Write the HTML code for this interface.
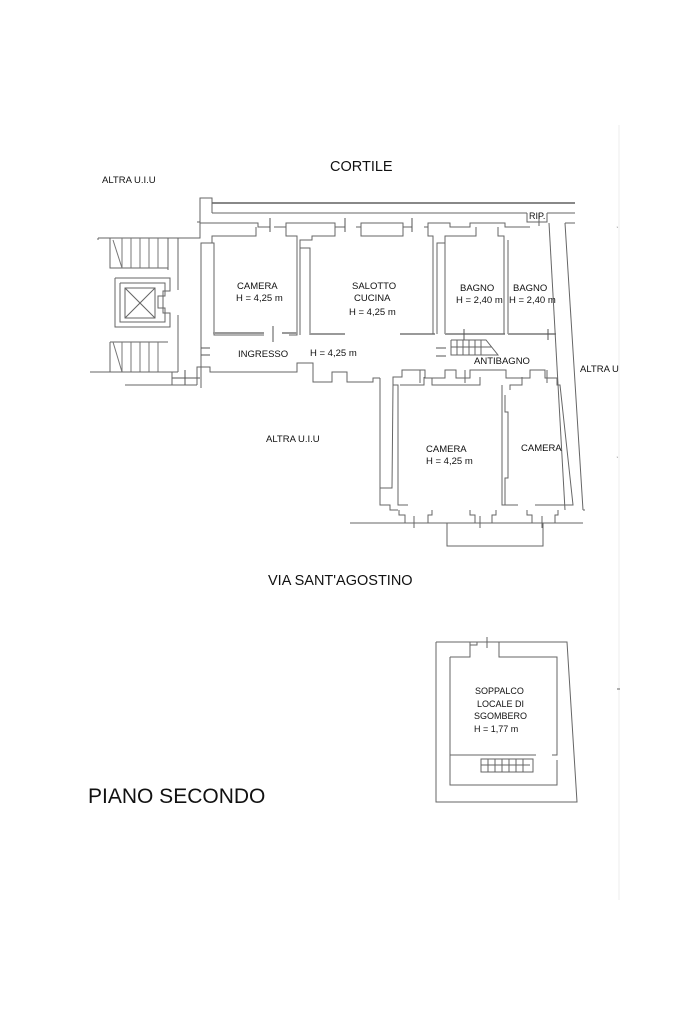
<!DOCTYPE html>
<html><head><meta charset="utf-8"><style>
html,body{margin:0;padding:0;background:#fff}
svg{display:block}
text{font-family:"Liberation Sans",sans-serif;fill:#111}
</style></head><body>
<svg width="683" height="1023" viewBox="0 0 683 1023" xmlns="http://www.w3.org/2000/svg">
<g fill="none" stroke="#666" stroke-width="1">
<line x1="619" y1="125" x2="619" y2="900" stroke="#eee"/>
<line x1="212" y1="203" x2="575" y2="203" stroke-width="2" stroke="#888"/>
<line x1="212" y1="213" x2="527" y2="213"/>
<line x1="547" y1="213" x2="575" y2="213"/>
<polyline points="197,222 200,222 200,198 212,198 212,213"/>
<polyline points="98,238 200,238 200,223 258,223 258,227 270,227"/>
<polyline points="274,227 286,227 286,223 335,223 335,227 345,227"/>
<polyline points="356,227 361,227 361,223 403,223 403,227 412,227"/>
<polyline points="424,227 428,227 428,223 450,223 450,227 470,227 470,223 505,223 505,227 530,227"/>
<polyline points="527,213 527,222 547,222 547,213"/>
<polyline points="201,388 201,243 212,243 212,236 256,236 256,227"/>
<polyline points="201,243 201,335"/>
<polyline points="212,243 214,243 214,335 264,335"/>
<polyline points="286,227 286,236 297,236 297,335 289,335"/>
<line x1="213" y1="333" x2="264" y2="333" stroke-width="2" stroke="#999"/>
<line x1="282" y1="333" x2="297" y2="333" stroke-width="2" stroke="#999"/>
<polyline points="300,335 300,240 312,240 312,236 335,236 335,227"/>
<polyline points="310,335 310,248 300,248"/>
<line x1="310" y1="334" x2="345" y2="334" stroke-width="2" stroke="#999"/>
<line x1="400" y1="334" x2="435" y2="334" stroke-width="2" stroke="#999"/>
<polyline points="361,227 361,236 403,236 403,227"/>
<polyline points="428,227 428,236 433,236 433,334"/>
<polyline points="437,334 437,243 445,243 445,236 476,236 476,227"/>
<polyline points="445,243 445,334"/>
<line x1="445" y1="334" x2="505" y2="334" stroke-width="2" stroke="#999"/>
<line x1="504" y1="240" x2="504" y2="334"/>
<line x1="508" y1="240" x2="508" y2="334"/>
<polyline points="504,240 504,236 498,236 498,227"/>
<line x1="508" y1="334" x2="556" y2="334" stroke-width="2" stroke="#999"/>
<line x1="549" y1="223" x2="565" y2="510"/>
<line x1="565" y1="223" x2="583" y2="510"/>
<line x1="565" y1="223" x2="575" y2="223"/>
<line x1="583" y1="510" x2="585" y2="510"/>
<line x1="539" y1="213" x2="539" y2="226"/>
<polyline points="451,340 486,340 498,355 451,355 451,340"/>
<line x1="457" y1="340" x2="457" y2="355"/><line x1="463" y1="340" x2="463" y2="355"/><line x1="469" y1="340" x2="469" y2="355"/><line x1="475" y1="340" x2="475" y2="355"/><line x1="481" y1="340" x2="481" y2="355"/>
<line x1="451" y1="347" x2="492" y2="347"/>
<g stroke="#555">
<line x1="270" y1="218" x2="270" y2="232"/><line x1="345" y1="218" x2="345" y2="232"/><line x1="412" y1="218" x2="412" y2="232"/>
<line x1="273" y1="326" x2="273" y2="342"/><line x1="201" y1="348" x2="210" y2="348"/><line x1="201" y1="355" x2="210" y2="355"/>
<line x1="464" y1="329" x2="464" y2="340"/><line x1="548" y1="329" x2="548" y2="340"/>
<line x1="436" y1="348" x2="446" y2="348"/><line x1="436" y1="356" x2="446" y2="356"/>
<line x1="185" y1="370" x2="185" y2="385"/><line x1="172" y1="378" x2="200" y2="378"/>
</g>
<polyline points="197,385 197,367 210,367 210,372 297,372 297,363 313,363 313,382 332,382 332,372 347,372 347,382 373,382 373,378 380,378"/>
<polyline points="380,378 380,505 390,505 390,510 398,510"/>
<polyline points="393,385 393,377 402,377 402,370 425,370 425,378 445,378 445,370 456,370 456,378 470,378 470,370 506,370 506,378 530,378 530,370 545,370 545,378 556,378"/>
<polyline points="393,385 392,488 380,488"/>
<polyline points="393,385 398,385 398,505 408,505"/>
<line x1="420" y1="370" x2="420" y2="383"/><line x1="465" y1="370" x2="465" y2="383"/><line x1="547" y1="370" x2="547" y2="383"/>
<polyline points="400,385 424,385 424,377"/>
<polyline points="432,378 432,385 480,385 480,377"/>
<polyline points="502,385 502,505 508,505"/>
<polyline points="505,395 505,412 508,412 508,478 505,478 505,505 518,505"/>
<polyline points="510,390 510,385 522,385 522,377"/>
<polyline points="548,378 557,378 557,385 560,385 573,505 535,505"/>
<line x1="350" y1="523" x2="583" y2="523"/>
<polyline points="399,510 399,515 405,515 405,523 428,523 428,515 432,515 432,510"/>
<polyline points="470,510 470,515 475,515 475,523 492,523 492,515 496,515 496,510"/>
<polyline points="527,510 527,515 532,515 532,523 555,523 555,515 558,515 558,510"/>
<line x1="414" y1="516" x2="414" y2="528"/><line x1="480" y1="516" x2="480" y2="528"/><line x1="542" y1="516" x2="542" y2="528"/>
<polyline points="447,523 447,546 543,546 543,523"/>
<line x1="98" y1="238" x2="98" y2="240"/>
<polyline points="110,238 110,268 168,268"/>
<line x1="168" y1="238" x2="168" y2="270"/>
<line x1="178" y1="238" x2="178" y2="290"/>
<g stroke="#777">
<line x1="122" y1="238" x2="122" y2="268"/><line x1="131" y1="238" x2="131" y2="268"/><line x1="140" y1="238" x2="140" y2="268"/><line x1="149" y1="238" x2="149" y2="268"/><line x1="158" y1="238" x2="158" y2="268"/>
<line x1="113" y1="240" x2="122" y2="268"/>
</g>
<polyline points="120,283 165,283 165,296 158,296 158,308 165,308 165,322 120,322 120,283"/>
<polyline points="115,278 170,278 170,291 163,291 163,313 170,313 170,327 115,327 115,278"/>
<line x1="125" y1="288" x2="155" y2="318"/><line x1="155" y1="288" x2="125" y2="318"/>
<rect x="125" y="288" width="30" height="30"/>
<polyline points="110,342 168,342"/>
<line x1="110" y1="342" x2="110" y2="372"/>
<line x1="178" y1="315" x2="178" y2="372"/>
<g stroke="#777">
<line x1="122" y1="342" x2="122" y2="372"/><line x1="131" y1="342" x2="131" y2="372"/><line x1="140" y1="342" x2="140" y2="372"/><line x1="149" y1="342" x2="149" y2="372"/><line x1="158" y1="342" x2="158" y2="372"/>
<line x1="113" y1="342" x2="122" y2="372"/>
</g>
<line x1="90" y1="372" x2="178" y2="372"/>
<polyline points="178,372 172,372 172,385 197,385"/>
<line x1="125" y1="385" x2="172" y2="385"/>
<polyline points="436,642 567,642 577,802 436,802 436,642"/>
<polyline points="450,657 470,657 470,642"/>
<polyline points="470,645 477,645 477,642"/>
<polyline points="499,642 499,657 557,657 557,755 552,755"/>
<line x1="487" y1="637" x2="487" y2="648"/>
<polyline points="450,657 450,785 557,785 557,760"/>
<line x1="450" y1="755" x2="536" y2="755"/>
<rect x="481" y="759" width="52" height="13"/>
<line x1="488" y1="759" x2="488" y2="772"/><line x1="495" y1="759" x2="495" y2="772"/><line x1="502" y1="759" x2="502" y2="772"/><line x1="509" y1="759" x2="509" y2="772"/><line x1="516" y1="759" x2="516" y2="772"/><line x1="523" y1="759" x2="523" y2="772"/>
<line x1="481" y1="765" x2="530" y2="765"/>
</g>
<g font-size="9.5">
<text x="102" y="183">ALTRA U.I.U</text>
<text x="237" y="289">CAMERA</text>
<text x="236" y="301">H = 4,25 m</text>
<text x="352" y="289">SALOTTO</text>
<text x="354" y="301">CUCINA</text>
<text x="349" y="315">H = 4,25 m</text>
<text x="460" y="291">BAGNO</text>
<text x="456" y="303">H = 2,40 m</text>
<text x="513" y="291">BAGNO</text>
<text x="509" y="303">H = 2,40 m</text>
<text x="529" y="219" font-size="9">RIP.</text>
<text x="238" y="357">INGRESSO</text>
<text x="310" y="356">H = 4,25 m</text>
<text x="474" y="364">ANTIBAGNO</text>
<text x="580" y="372">ALTRA U</text>
<text x="266" y="442">ALTRA U.I.U</text>
<text x="426" y="452">CAMERA</text>
<text x="426" y="464">H = 4,25 m</text>
<text x="521" y="451">CAMERA</text>
<text x="475" y="694" font-size="9">SOPPALCO</text>
<text x="477" y="707" font-size="9">LOCALE DI</text>
<text x="474" y="719" font-size="9">SGOMBERO</text>
<text x="474" y="732" font-size="9">H = 1,77 m</text>
</g>
<text x="330" y="171" font-size="14.5">CORTILE</text>
<text x="268" y="585" font-size="14.5">VIA SANT'AGOSTINO</text>
<text x="88" y="803" font-size="21">PIANO SECONDO</text>
<text x="616" y="232" font-size="7">ʾ</text>
<text x="616" y="462" font-size="7">ʾ</text>
<line x1="617" y1="689" x2="620" y2="689" stroke="#666"/>
</svg>
</body></html>
